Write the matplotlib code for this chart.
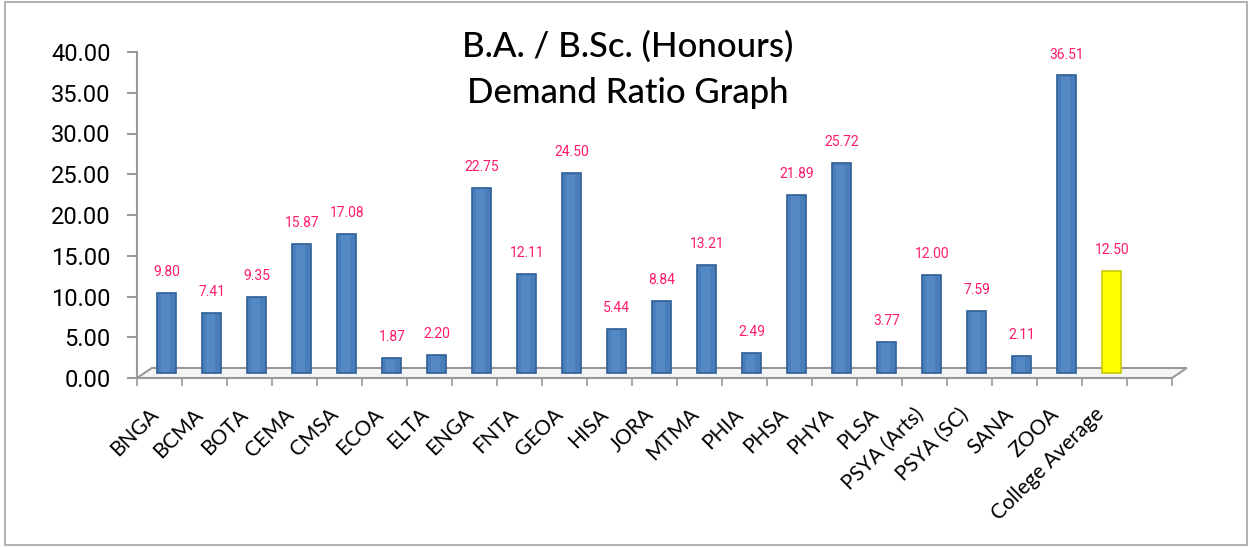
import numpy as np
import matplotlib.pyplot as plt
from matplotlib.patches import Polygon, Rectangle

# Daten aus dem Diagramm
courses = ['BNGA', 'BCMA', 'BOTA', 'CEMA', 'CMSA', 'ECOA', 'ELTA', 'ENGA', 'FNTA',
           'GEOA', 'HISA', 'JORA', 'MTMA', 'PHIA', 'PHSA', 'PHYA', 'PLSA',
           'PSYA (Arts)', 'PSYA (SC)', 'SANA', 'ZOOA', 'College Average']
ratios = [9.80, 7.41, 9.35, 15.87, 17.08, 1.87, 2.20, 22.75, 12.11, 24.50, 5.44,
          8.84, 13.21, 2.49, 21.89, 25.72, 3.77, 12.00, 7.59, 2.11, 36.51, 12.50]
n_slots = 23  # eine leere Kategorie am Ende
y_ticks = [0, 5, 10, 15, 20, 25, 30, 35, 40]

plt.rcParams['font.family'] = ['Lato', 'DejaVu Sans']

fig = plt.figure(figsize=(12.5, 5.47), dpi=100)
ax = fig.add_axes([137 / 1250, 1 - 378 / 547, 1035 / 1250, 326 / 547])

# Rahmen um die Grafik
fig.add_artist(Rectangle((5 / 1250, 2 / 547), 1242 / 1250, 543 / 547,
                         transform=fig.transFigure, fill=False,
                         edgecolor='#a6a6a6', linewidth=1.2))

# pseudo-3D Boden
dx, dy = 0.33, 1.23
floor = Polygon([(-0.5, 0), (n_slots - 0.5, 0), (n_slots - 0.5 + dx, dy), (-0.5 + dx, dy)],
                closed=True, facecolor='#f4f4f4', edgecolor='#9a9a9a',
                linewidth=1.5, clip_on=False, zorder=1)
ax.add_patch(floor)

x = np.arange(len(ratios))
colors = ['#4a7ebb'] * (len(ratios) - 1) + ['#ffff00']
edges = ['#2f5f96'] * (len(ratios) - 1) + ['#c9c900']
bars = ax.bar(x + dx / 2, ratios, width=0.42, bottom=dy / 2, color=colors,
              edgecolor=edges, linewidth=1.2, zorder=3)

# leichtes Glanzlicht fuer Zylinderoptik
for xi, v, c in zip(x, ratios, colors):
    if c != '#ffff00':
        ax.bar(xi + dx / 2 - 0.03, v - 0.3, width=0.2, bottom=dy / 2 + 0.15,
               color='#5589c6', linewidth=0, zorder=4)

for xi, v in zip(x, ratios):
    ax.annotate(f'{v:.2f}', xy=(xi + dx / 2, v + dy / 2), xytext=(0, 10),
                textcoords='offset points', ha='center', va='bottom',
                fontsize=10, color='#ff1a6e', family=['Roboto', 'DejaVu Sans'])

ax.set_xlim(-0.5, n_slots - 0.5)
ax.set_ylim(0, 40)
ax.set_yticks(y_ticks)
ax.set_yticklabels([f'{t:.2f}' for t in y_ticks], fontsize=17,
                   family=['Roboto', 'DejaVu Sans'])
ax.tick_params(axis='y', length=7, width=1.5, color='#9a9a9a', pad=12)

ax.set_xticks(np.arange(n_slots + 1) - 0.5)
ax.set_xticklabels([])
ax.tick_params(axis='x', length=6, width=1.2, color='#9a9a9a', direction='out')

for i, name in enumerate(courses):
    ax.annotate(name, xy=(i, 0), xycoords=('data', 'axes fraction'),
                xytext=(-3, -24), textcoords='offset points',
                ha='right', va='center', rotation=45, rotation_mode='anchor',
                fontsize=15)

for s in ['top', 'right', 'bottom']:
    ax.spines[s].set_visible(False)
ax.spines['left'].set_color('#9a9a9a')
ax.spines['left'].set_linewidth(1.5)

fig.text(628 / 1250, 1 - 47 / 547, 'B.A. / B.Sc. (Honours)', ha='center', va='center',
         fontsize=25, fontweight='medium')
fig.text(628 / 1250, 1 - 93 / 547, 'Demand Ratio Graph', ha='center', va='center',
         fontsize=25, fontweight='medium')

fig.savefig('out.png', dpi=100)
